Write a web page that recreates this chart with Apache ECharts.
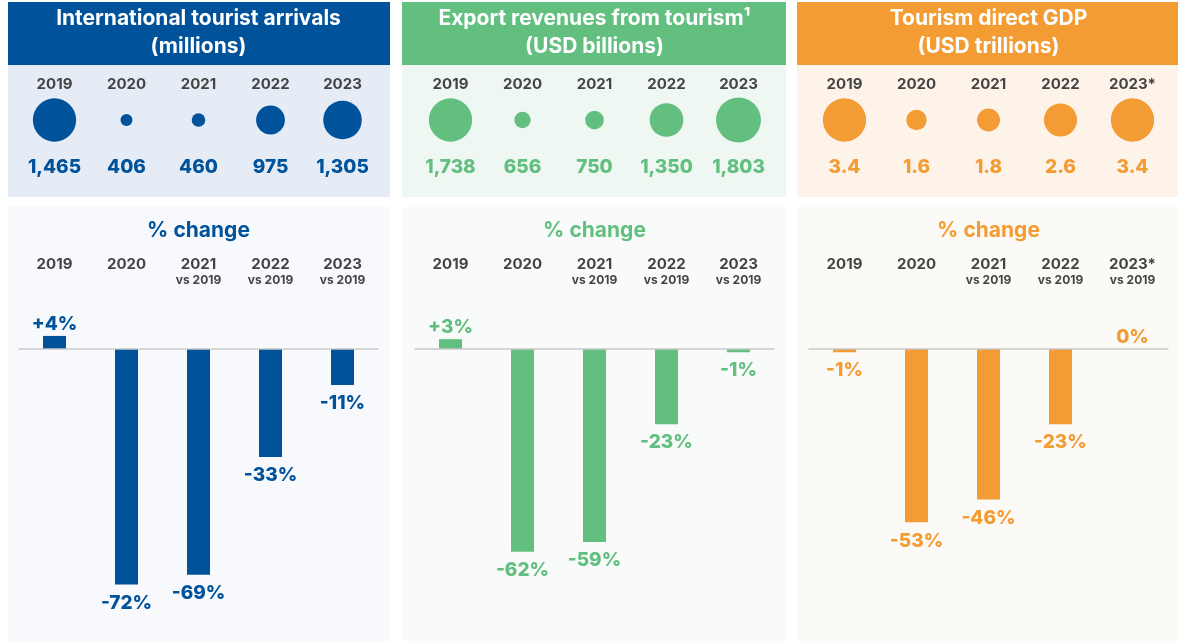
<!DOCTYPE html>
<html><head><meta charset="utf-8">
<script src="https://cdn.jsdelivr.net/npm/echarts@6/dist/echarts.min.js"></script>
<style>html,body{margin:0;padding:0;background:#fff}#c{width:1179px;height:641px}</style>
</head><body><div id="c"></div>
<script>
const years = ['2019','2020','2021','2022','2023'];
const yearsGDP = ['2019','2020','2021','2022','2023*'];
const changeLabels = ['2019','2020','2021\nvs 2019','2022\nvs 2019','2023\nvs 2019'];
const changeLabelsGDP = ['2019','2020','2021\nvs 2019','2022\nvs 2019','2023*\nvs 2019'];
const arrivals = [1465, 406, 460, 975, 1305];
const exportRevenues = [1738, 656, 750, 1350, 1803];
const directGDP = [3.4, 1.6, 1.8, 2.6, 3.4];
const arrivalsChange = [4, -72, -69, -33, -11];
const exportChange = [3, -62, -59, -23, -1];
const gdpChange = [-1, -53, -46, -23, 0];

const FONT = 'Inter, "Noto Sans", sans-serif';
const BLUE = '#00529b', GREEN = '#62bf7f', ORANGE = '#f39c33';
const GREY = '#444444';

const panels = [
  {x: 8, w: 382, left: 18.5, cx: 198.5, color: BLUE, top: '#e5ecf5', low: '#f7f9fc',
   title: 'International tourist arrivals\n(millions)', cats: years, chCats: changeLabels,
   vals: arrivals, ch: arrivalsChange, fmt: v => v.toLocaleString('en-US')},
  {x: 402, w: 384, left: 414.5, cx: 594.5, color: GREEN, top: '#eef7f1', low: '#f9fbfa',
   title: 'Export revenues from tourism\u00b9\n(USD billions)', cats: years, chCats: changeLabels,
   vals: exportRevenues, ch: exportChange, fmt: v => v.toLocaleString('en-US')},
  {x: 797, w: 381, left: 808.5, cx: 988.5, color: ORANGE, top: '#fdf3e8', low: '#fcfaf7',
   title: 'Tourism direct GDP\n(USD trillions)', cats: yearsGDP, chCats: changeLabelsGDP,
   vals: directGDP, ch: gdpChange, fmt: v => v.toFixed(1)}
];

const grid = [], xAxis = [], yAxis = [], series = [], graphic = [];
panels.forEach((p, k) => {
  // backgrounds
  graphic.push({type: 'rect', z: -100, silent: true, shape: {x: p.x, y: 2, width: p.w, height: 63}, style: {fill: p.color}});
  graphic.push({type: 'rect', z: -100, silent: true, shape: {x: p.x, y: 65, width: p.w, height: 132}, style: {fill: p.top}});
  graphic.push({type: 'rect', z: -100, silent: true, shape: {x: p.x, y: 207, width: p.w, height: 434}, style: {fill: p.low}});
  graphic.push({type: 'text', z: 10, silent: true, x: p.cx, y: 33,
    style: {text: p.title, fill: '#ffffff', font: 'bold 21px ' + FONT, lineHeight: 28,
      align: 'center', verticalAlign: 'middle', textAlign: 'center', textVerticalAlign: 'middle'}});
  graphic.push({type: 'text', z: 10, silent: true, x: p.cx, y: 231,
    style: {text: '% change', fill: p.color, font: 'bold 21px ' + FONT,
      align: 'center', verticalAlign: 'middle', textAlign: 'center', textVerticalAlign: 'middle'}});

  // bubble grid
  const gb = grid.length;
  grid.push({left: p.left, width: 360, top: 100, height: 40});
  xAxis.push({type: 'category', gridIndex: gb, data: p.cats, position: 'top',
    axisLine: {show: false}, axisTick: {show: false},
    axisLabel: {interval: 0, margin: 8, fontSize: 15, fontWeight: 'bold', color: GREY, fontFamily: FONT}});
  yAxis.push({type: 'category', gridIndex: gb, data: ['v'], show: false});
  const base = p.vals[0];
  series.push({type: 'scatter', xAxisIndex: gb, yAxisIndex: gb,
    data: p.vals.map((v, i) => [i, 0, v]),
    symbolSize: d => d[2] / base * 43.3,
    itemStyle: {color: p.color, opacity: 1},
    label: {show: true, position: 'inside', offset: [0, 47], color: p.color,
      fontSize: 19, fontWeight: 800, fontFamily: FONT, formatter: q => p.fmt(q.value[2])},
    silent: true});

  // bar grid
  const gc = grid.length;
  grid.push({left: p.left, width: 360, top: 316.3, height: 294.3});
  xAxis.push({type: 'category', gridIndex: gc, data: p.chCats, position: 'top',
    axisLine: {show: false}, axisTick: {show: false},
    axisLabel: {interval: 0, margin: 60, verticalAlign: 'top', color: GREY, fontFamily: FONT,
      formatter: s => { const t = s.split('\n'); return t.length > 1 ? '{y|' + t[0] + '}\n{v|' + t[1] + '}' : '{y|' + t[0] + '}'; },
      rich: {y: {fontSize: 15, fontWeight: 'bold', color: GREY, lineHeight: 17, fontFamily: FONT},
             v: {fontSize: 12, fontWeight: 'bold', color: GREY, lineHeight: 15, fontFamily: FONT}}}});
  yAxis.push({type: 'value', gridIndex: gc, min: -80, max: 10, show: false, splitLine: {show: false}});
  series.push({type: 'bar', xAxisIndex: gc, yAxisIndex: gc, barWidth: 23,
    data: p.ch.map(v => v >= 0 ? {value: v, label: {position: 'top', distance: 2}} : {value: v, label: {position: 'bottom', distance: 9}}),
    itemStyle: {color: p.color},
    label: {show: true, position: 'outside', distance: 6, color: p.color, fontSize: 19,
      fontWeight: 800, fontFamily: FONT,
      formatter: q => (q.value > 0 ? '+' : '') + q.value + '%'},
    markLine: {silent: true, symbol: 'none', label: {show: false},
      lineStyle: {color: '#c9c9c9', width: 1.5, type: 'solid'}, data: [{yAxis: 0}]},
    silent: true});
});

const chart = echarts.init(document.getElementById('c'), null, {renderer: 'canvas'});
chart.setOption({animation: false, backgroundColor: '#ffffff', grid, xAxis, yAxis, series, graphic});
</script></body></html>
